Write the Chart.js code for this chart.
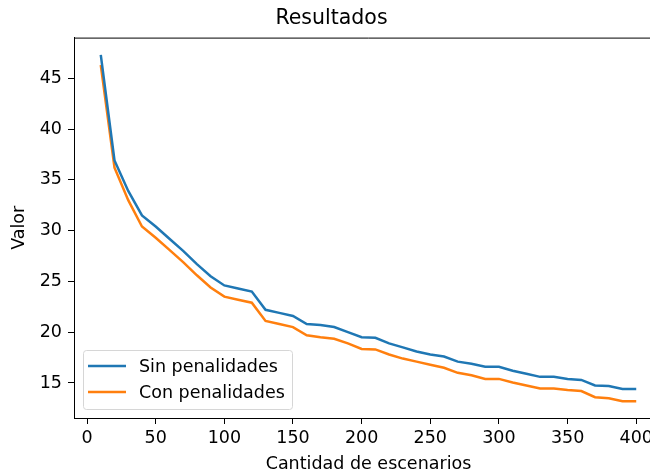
<!DOCTYPE html>
<html>
<head>
<meta charset="utf-8">
<script src="https://cdn.jsdelivr.net/npm/chart.js@4"></script>
<style>
  html, body { margin: 0; padding: 0; background: #fff; overflow: hidden; }
  #wrap { width: 650px; height: 475px; overflow: hidden; position: relative; }
  canvas { display: block; }
</style>
</head>
<body>
<div id="wrap"><canvas id="chart" width="680" height="475"></canvas></div>
<script>
// Data
const escenarios = [10, 20, 30, 40, 50, 60, 70, 80, 90, 100, 110, 120, 130, 140, 150, 160, 170, 180, 190, 200,
  210, 220, 230, 240, 250, 260, 270, 280, 290, 300, 310, 320, 330, 340, 350, 360, 370, 380, 390, 400];
const sinPenalidades = [47.3, 36.9, 33.9, 31.5, 30.4, 29.2, 28.0, 26.7, 25.5, 24.6, 24.3, 24.0, 22.2, 21.9, 21.6, 20.8, 20.7, 20.5, 20.0, 19.5,
  19.45, 18.9, 18.5, 18.1, 17.8, 17.6, 17.1, 16.9, 16.6, 16.6, 16.2, 15.9, 15.6, 15.6, 15.4, 15.3, 14.75, 14.7, 14.4, 14.4];
const conPenalidades = [46.3, 36.2, 33.0, 30.4, 29.3, 28.1, 26.9, 25.6, 24.4, 23.5, 23.2, 22.9, 21.1, 20.8, 20.5, 19.7, 19.5, 19.35, 18.9, 18.35,
  18.3, 17.8, 17.4, 17.1, 16.8, 16.5, 16.0, 15.75, 15.4, 15.4, 15.05, 14.75, 14.45, 14.45, 14.3, 14.2, 13.6, 13.5, 13.2, 13.2];
const xTicks = [0, 50, 100, 150, 200, 250, 300, 350, 400];
const yTicks = [15, 20, 25, 30, 35, 40, 45];
const seriesNames = ['Sin penalidades', 'Con penalidades'];
const colors = ['#1f77b4', '#ff7f0e'];

const font = "'DejaVu Sans', sans-serif";
const fs = 17.5;

// top spine + legend inside the axes, matplotlib style
const extras = {
  id: 'extras',
  afterDraw(chart) {
    const ctx = chart.ctx;
    const a = chart.chartArea;
    ctx.save();
    ctx.strokeStyle = '#000';
    ctx.lineWidth = 1;
    ctx.beginPath();
    ctx.moveTo(a.left, a.top + 0.5);
    ctx.lineTo(a.right, a.top + 0.5);
    ctx.stroke();

    // legend box
    const bx = a.left + 9, by = a.bottom - 68, bw = 209, bh = 59;
    ctx.fillStyle = 'rgba(255,255,255,0.8)';
    ctx.strokeStyle = '#d6d6d6';
    ctx.beginPath();
    ctx.roundRect(bx + 0.5, by + 0.5, bw, bh, 3);
    ctx.fill();
    ctx.stroke();
    ctx.font = fs + 'px ' + font;
    ctx.textBaseline = 'middle';
    seriesNames.forEach((name, i) => {
      const ly = by + 16 + i * 26;
      ctx.strokeStyle = colors[i];
      ctx.lineWidth = 2.5;
      ctx.beginPath();
      ctx.moveTo(bx + 5, ly);
      ctx.lineTo(bx + 43, ly);
      ctx.stroke();
      ctx.fillStyle = '#000';
      ctx.fillText(name, bx + 56, ly + 1);
    });
    ctx.restore();
  }
};

new Chart(document.getElementById('chart'), {
  type: 'line',
  data: {
    datasets: [
      { label: seriesNames[0], data: escenarios.map((x, i) => ({ x: x, y: sinPenalidades[i] })), borderColor: colors[0], backgroundColor: colors[0] },
      { label: seriesNames[1], data: escenarios.map((x, i) => ({ x: x, y: conPenalidades[i] })), borderColor: colors[1], backgroundColor: colors[1] }
    ]
  },
  options: {
    responsive: false,
    animation: false,
    layout: { padding: { left: 0, right: 17, top: 0, bottom: 0 } },
    elements: {
      point: { radius: 0 },
      line: { borderWidth: 2.5, tension: 0 }
    },
    plugins: {
      legend: { display: false },
      tooltip: { enabled: false },
      title: {
        display: true,
        text: 'Resultados',
        color: '#000',
        font: { family: font, size: 20.5, weight: 'normal' },
        padding: { top: 6, bottom: 7 }
      }
    },
    scales: {
      x: {
        type: 'linear',
        min: -9.5,
        max: 419.5,
        afterBuildTicks: axis => { axis.ticks = xTicks.map(v => ({ value: v })); },
        afterFit: axis => { axis.height = 57; },
        grid: { display: true, drawOnChartArea: false, drawTicks: true, tickLength: 6, tickColor: '#000' },
        border: { display: true, color: '#000', width: 1 },
        ticks: { color: '#000', font: { family: font, size: fs }, padding: 4, maxRotation: 0 },
        title: { display: true, text: 'Cantidad de escenarios', color: '#000', font: { family: font, size: fs }, padding: { top: 0, bottom: 0 } }
      },
      y: {
        type: 'linear',
        min: 11.55,
        max: 49.0,
        afterBuildTicks: axis => { axis.ticks = yTicks.map(v => ({ value: v })); },
        afterFit: axis => { axis.width = 74; },
        grid: { display: true, drawOnChartArea: false, drawTicks: true, tickLength: 6, tickColor: '#000' },
        border: { display: true, color: '#000', width: 1 },
        ticks: { color: '#000', font: { family: font, size: fs }, padding: 6 },
        title: { display: true, text: 'Valor', color: '#000', font: { family: font, size: fs }, padding: { top: 9, bottom: 0 } }
      }
    }
  },
  plugins: [extras]
});
</script>
</body>
</html>
